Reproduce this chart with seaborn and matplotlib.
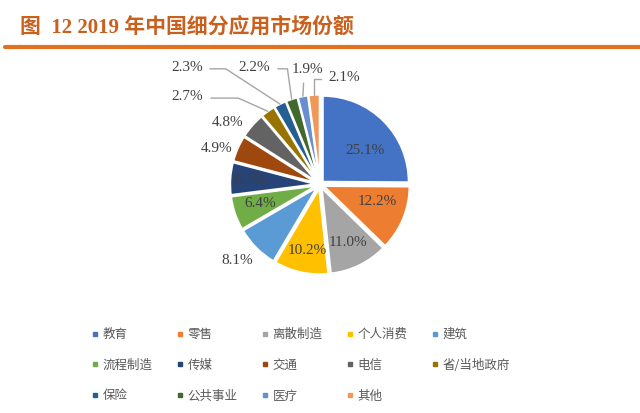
import numpy as np
import seaborn as sns
import matplotlib.pyplot as plt
from matplotlib.lines import Line2D

sns.set_theme(style="white")
plt.rcParams["font.family"] = ["Liberation Serif", "Noto Sans CJK SC", "DejaVu Sans"]

TITLE = "图  12 2019 年中国细分应用市场份额"

segments = ["教育", "零售", "离散制造", "个人消费", "建筑",
            "流程制造", "传媒", "交通", "电信", "省/当地政府",
            "保险", "公共事业", "医疗", "其他"]
shares = [25.1, 12.2, 11.0, 10.2, 8.1, 6.4, 6.1, 4.9, 4.8, 2.7, 2.3, 2.2, 1.9, 2.1]

colors = ["#4472C4", "#ED7D31", "#A5A5A5", "#FFC000", "#5B9BD5",
          "#70AD47", "#264478", "#9E480E", "#636363", "#997300",
          "#255E91", "#43682B", "#698ED0", "#F1975A"]

# label positions in pie-radius units (layout only)
label_pos = [(0.52, 0.40), (0.67, -0.20), (0.32, -0.67), (-0.15, -0.77),
             (-0.96, -0.88), (-0.69, -0.22), (-0.81, 0.05), (-1.20, 0.42),
             (-1.07, 0.72), (-1.54, 1.02), (-1.55, 1.36), (-0.76, 1.36),
             (-0.15, 1.34), (0.28, 1.24)]
# leader lines: index -> (relpos on text, connection style)
leaders = {
    9: ((1, 0.4), "angle,angleA=0,angleB=156,rad=0"),
    10: ((1, 0.4), "angle,angleA=0,angleB=147,rad=0"),
    11: ((1, 0.4), "angle,angleA=0,angleB=98,rad=0"),
    12: ((0.4, 0), "arc3,rad=0"),
    13: ((0, 0.45), "angle,angleA=0,angleB=90,rad=0"),
}

EXPLODE = 0.045
fig = plt.figure(figsize=(6.4, 4.13), dpi=100)

# title and orange rule
fig.text(20 / 640, 1 - 27 / 413, TITLE, fontsize=15, fontweight="bold",
         color="#C9601E", va="center", ha="left")
fig.add_artist(Line2D([5 / 640, 1], [1 - 47 / 413] * 2, color="#E2711D", lw=3))

# pie axes: centre at (320, 184.5) px, 86 px per unit
scale = 86.0
ax_l, ax_r, ax_t, ax_b = 120, 520, 60, 310
ax = fig.add_axes([ax_l / 640, 1 - ax_b / 413, (ax_r - ax_l) / 640, (ax_b - ax_t) / 413])

ax.pie(shares, colors=colors, startangle=90, counterclock=False,
       explode=[EXPLODE] * len(shares), radius=1,
       wedgeprops=dict(edgecolor="white", linewidth=1.5))

ax.set_xlim((ax_l - 320) / scale, (ax_r - 320) / scale)
ax.set_ylim((184.5 - ax_b) / scale, (184.5 - ax_t) / scale)
ax.set_aspect("equal")
ax.axis("off")

cum = np.cumsum([0] + shares[:-1])
total = sum(shares)
for i, v in enumerate(shares):
    mid = np.deg2rad(90 - 360 * (cum[i] + v / 2) / total)
    txt = f"{v:.1f}%"
    x, y = label_pos[i]
    if i in leaders:
        rel, cs = leaders[i]
        edge = (1 + EXPLODE) * np.cos(mid), (1 + EXPLODE) * np.sin(mid)
        ax.annotate(txt, xy=edge, xytext=(x, y), ha="center", va="center",
                    fontsize=11, color="#404040",
                    arrowprops=dict(arrowstyle="-", color="#A6A6A6", lw=1,
                                    relpos=rel, connectionstyle=cs,
                                    shrinkA=3, shrinkB=0))
    else:
        ax.text(x, y, txt, ha="center", va="center", fontsize=11, color="#404040")

# legend, filled row-wise like the original
handles = [Line2D([], [], marker="s", markersize=2.6, linestyle="none",
                  color=c) for c in colors]
ncol = 5
order = [r * ncol + c for c in range(ncol) for r in range(3) if r * ncol + c < len(segments)]
leg = fig.legend([handles[k] for k in order], [segments[k] for k in order],
                 ncol=ncol, loc="upper left", bbox_to_anchor=(92 / 640, 1 - 328 / 413),
                 frameon=False, handlelength=0.5, handletextpad=0.35,
                 columnspacing=1.95, labelspacing=1.42, borderpad=0, borderaxespad=0,
                 labelcolor="#595959", prop={"family": ["Noto Sans CJK SC", "DejaVu Sans"], "size": 9})

fig.savefig("out.png", dpi=100)
